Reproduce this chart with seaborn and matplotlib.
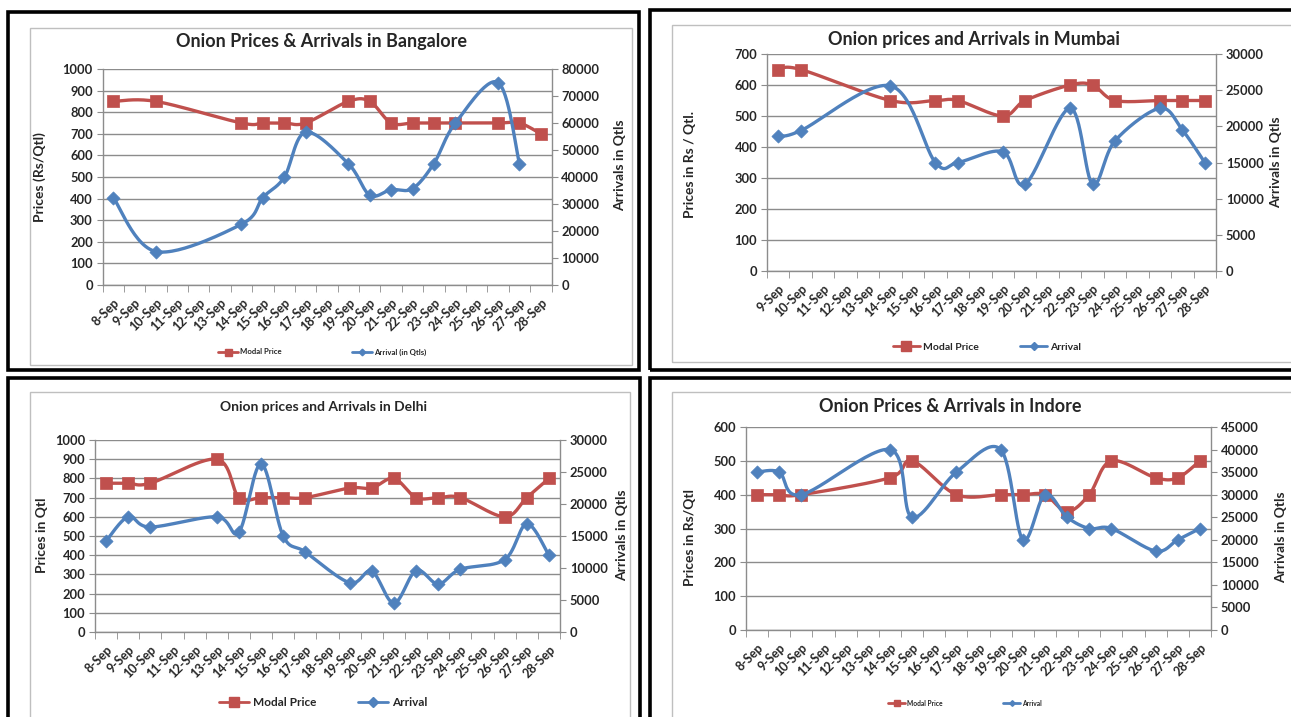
import numpy as np
import matplotlib
matplotlib.use("Agg")
import matplotlib.pyplot as plt
import seaborn as sns
from matplotlib.lines import Line2D
from matplotlib.patches import Rectangle
from matplotlib.ticker import MultipleLocator, FixedLocator

nan = np.nan

# ---------------- data ----------------
dates_8 = ['8-Sep', '9-Sep', '10-Sep', '11-Sep', '12-Sep', '13-Sep', '14-Sep', '15-Sep',
           '16-Sep', '17-Sep', '18-Sep', '19-Sep', '20-Sep', '21-Sep', '22-Sep', '23-Sep',
           '24-Sep', '25-Sep', '26-Sep', '27-Sep', '28-Sep']
dates_9 = ['9-Sep', '10-Sep', '11-Sep', '12-Sep', '13-Sep', '14-Sep', '15-Sep',
           '16-Sep', '17-Sep', '18-Sep', '19-Sep', '20-Sep', '21-Sep', '22-Sep', '23-Sep',
           '24-Sep', '25-Sep', '26-Sep', '27-Sep', '28-Sep']

blr_price = [850, nan, 850, nan, nan, nan, 750, 750, 750, 750, nan, 850, 850, 750, 750, 750, 750, nan, 750, 750, 700]
blr_arrival = [32400, nan, 12400, nan, nan, nan, 22500, 32400, 39900, 56600, nan, 44900, 33300, 35300, 35700, 45000, 59900, nan, 75000, 45000, nan]

mum_price = [650, 650, nan, nan, nan, 550, nan, 550, 550, nan, 500, 550, nan, 600, 600, 550, nan, 550, 550, 550]
mum_arrival = [18700, 19400, nan, nan, nan, 25600, nan, 15000, 15000, nan, 16500, 12000, nan, 22500, 12000, 18000, nan, 22500, 19500, 15000]

del_price = [775, 775, 775, nan, nan, 900, 700, 700, 700, 700, nan, 750, 750, 800, 700, 700, 700, nan, 600, 700, 800]
del_arrival = [14200, 18000, 16400, nan, nan, 18000, 15600, 26300, 15000, 12500, nan, 7700, 9500, 4500, 9600, 7500, 9800, nan, 11300, 16900, 12000]

ind_price = [400, 400, 400, nan, nan, nan, 450, 500, nan, 400, nan, 400, 400, 400, 350, 400, 500, nan, 450, 450, 500]
ind_arrival = [35000, 35000, 30000, nan, nan, nan, 40000, 25000, nan, 35000, nan, 40000, 20000, 30000, 25000, 22500, 22500, nan, 17500, 20000, 22500]

# ---------------- style ----------------
W, H = 1291, 717
sns.set_style("white")
plt.rcParams['font.family'] = ['Lato', 'DejaVu Sans']
RED = '#C0504D'
BLUE = '#4F81BD'
GRID = '#8C8C8C'
AXC = '#8C8C8C'

fig = plt.figure(figsize=(W / 100, H / 100), dpi=100)


def fx(x):
    return x / W


def fy(y):
    return 1 - y / H


def smooth(xs, ys, wpx, hpx, xlim, ylim):
    px = (xs - xlim[0]) / (xlim[1] - xlim[0]) * wpx
    py = (ys - ylim[0]) / (ylim[1] - ylim[0]) * hpx
    P = np.column_stack([px, py])
    n = len(P)
    out = [P[0]]
    t = np.linspace(0, 1, 30)[1:, None]
    for i in range(n - 1):
        p0 = P[i - 1] if i > 0 else P[i]
        p1, p2 = P[i], P[i + 1]
        p3 = P[i + 2] if i + 2 < n else P[i + 1]
        c1 = p1 + (p2 - p0) / 6
        c2 = p2 - (p3 - p1) / 6
        seg = (1 - t) ** 3 * p1 + 3 * (1 - t) ** 2 * t * c1 + 3 * (1 - t) * t ** 2 * c2 + t ** 3 * p2
        out.extend(seg)
    out = np.array(out)
    x = out[:, 0] / wpx * (xlim[1] - xlim[0]) + xlim[0]
    y = out[:, 1] / hpx * (ylim[1] - ylim[0]) + ylim[0]
    return x, y


def panel(box, inner, axbox, cats, price, arrival, lmax, lstep, rmax, rstep,
          title, tpos, tsize, ylab, ylpos, yrpos, legend_labels, legpos, legsize, legspace):
    bx0, by0, bx1, by1 = box
    fig.patches.append(Rectangle((fx(bx0), fy(by1)), fx(bx1 - bx0), (by1 - by0) / H,
                                 transform=fig.transFigure, fill=False, ec='black', lw=2.6, zorder=0))
    ix0, iy0, ix1, iy1 = inner
    fig.patches.append(Rectangle((fx(ix0), fy(iy1)), fx(ix1 - ix0), (iy1 - iy0) / H,
                                 transform=fig.transFigure, fill=False, ec='#BFBFBF', lw=1.0, zorder=0))

    x0, y0, x1, y1 = axbox
    ax = fig.add_axes([fx(x0), fy(y1), fx(x1 - x0), (y1 - y0) / H])
    ax.patch.set_alpha(0)
    n = len(cats)
    idx = np.arange(n)
    xlim = (-0.5, n - 0.5)
    ax.set_xlim(*xlim)
    ax.set_ylim(0, lmax)
    ax.yaxis.set_major_locator(MultipleLocator(lstep))
    ax.grid(axis='y', color=GRID, lw=1.0)
    ax.set_axisbelow(True)
    ax.set_xticks(idx)
    ax.set_xticklabels(cats, rotation=45, ha='right', rotation_mode='anchor',
                       fontsize=9, fontweight='bold')
    ax.xaxis.set_minor_locator(FixedLocator(np.arange(n + 1) - 0.5))
    ax.tick_params(axis='x', which='major', length=0, pad=8)
    ax.tick_params(axis='x', which='minor', length=5, color=AXC, direction='out', bottom=True)
    ax.tick_params(axis='y', length=4, color=AXC, direction='out', left=True,
                   labelsize=9.3, pad=3)
    for lbl in ax.get_yticklabels():
        lbl.set_fontweight('bold')
    for s in ['top', 'right']:
        ax.spines[s].set_visible(False)
    for s in ['left', 'bottom']:
        ax.spines[s].set_color(AXC)
        ax.spines[s].set_linewidth(1.0)

    wpx, hpx = x1 - x0, y1 - y0
    pr = np.array(price, dtype=float)
    m = ~np.isnan(pr)
    sx, sy = smooth(idx[m].astype(float), pr[m], wpx, hpx, xlim, (0, lmax))
    ax.plot(sx, sy, color=RED, lw=2.4, zorder=3, solid_capstyle='round')
    sns.scatterplot(x=idx[m], y=pr[m], ax=ax, marker='s', s=85, color=RED,
                    edgecolor=RED, linewidth=0.5, zorder=4)

    ax2 = ax.twinx()
    ax2.set_xlim(*xlim)
    ax2.set_ylim(0, rmax)
    ax2.yaxis.set_major_locator(MultipleLocator(rstep))
    ax2.tick_params(axis='y', length=4, color=AXC, direction='out', right=True,
                    labelsize=9.3, pad=3)
    for lbl in ax2.get_yticklabels():
        lbl.set_fontweight('bold')
    for s in ['top', 'left', 'bottom']:
        ax2.spines[s].set_visible(False)
    ax2.spines['right'].set_color(AXC)
    ax2.spines['right'].set_linewidth(1.0)
    ax2.grid(False)

    ar = np.array(arrival, dtype=float)
    m2 = ~np.isnan(ar)
    sx, sy = smooth(idx[m2].astype(float), ar[m2], wpx, hpx, xlim, (0, rmax))
    ax2.plot(sx, sy, color=BLUE, lw=2.4, zorder=3, solid_capstyle='round')
    sns.scatterplot(x=idx[m2], y=ar[m2], ax=ax2, marker='D', s=45, color=BLUE,
                    edgecolor=BLUE, linewidth=0.5, zorder=4)

    fig.text(fx(tpos[0]), fy(tpos[1]), title, ha='center', va='center',
             fontsize=tsize, fontweight='bold')
    fig.text(fx(ylpos[0]), fy(ylpos[1]), ylab[0], ha='center', va='center',
             rotation=90, fontsize=10, fontweight='bold')
    fig.text(fx(yrpos[0]), fy(yrpos[1]), ylab[1], ha='center', va='center',
             rotation=90, fontsize=10, fontweight='bold')

    handles = [Line2D([], [], color=RED, lw=2, marker='s', markersize=legsize * 0.9),
               Line2D([], [], color=BLUE, lw=2, marker='D', markersize=legsize * 0.6)]
    fig.legend(handles, legend_labels, loc='center', bbox_to_anchor=(fx(legpos[0]), fy(legpos[1])),
               ncol=2, frameon=False, prop={'size': legsize, 'weight': 'bold'},
               handlelength=2.6, handletextpad=0.3, columnspacing=legspace, borderaxespad=0)


# Bangalore
panel(box=(8, 12, 639, 370), inner=(30, 28, 632, 365), axbox=(102.5, 69, 551.5, 285),
      cats=dates_8, price=blr_price, arrival=blr_arrival, lmax=1000, lstep=100, rmax=80000, rstep=10000,
      title='Onion Prices & Arrivals in Bangalore', tpos=(322, 42), tsize=13,
      ylab=('Prices (Rs/Qtl)', 'Arrivals in Qtls'), ylpos=(40, 177), yrpos=(620, 165),
      legend_labels=['Modal Price', 'Arrival (in Qtls)'], legpos=(322, 352), legsize=5.6, legspace=9)

# Mumbai
panel(box=(650, 10, 1300, 370), inner=(672, 25, 1300, 362), axbox=(767, 54, 1216, 271),
      cats=dates_9, price=mum_price, arrival=mum_arrival, lmax=700, lstep=100, rmax=30000, rstep=5000,
      title='Onion prices and Arrivals in Mumbai', tpos=(974, 40), tsize=13,
      ylab=('Prices in Rs / Qtl.', 'Arrivals in Qtls'), ylpos=(690, 165), yrpos=(1276, 162),
      legend_labels=['Modal Price', 'Arrival'], legpos=(987, 347), legsize=7.5, legspace=4)

# Delhi
panel(box=(8, 378, 640, 730), inner=(30, 392, 630, 730), axbox=(95, 440, 560, 632),
      cats=dates_8, price=del_price, arrival=del_arrival, lmax=1000, lstep=100, rmax=30000, rstep=5000,
      title='Onion prices and Arrivals in Delhi', tpos=(323, 407), tsize=10,
      ylab=('Prices in Qtl', 'Arrivals in Qtls'), ylpos=(42, 535), yrpos=(622, 535),
      legend_labels=['Modal Price', 'Arrival'], legpos=(323, 703), legsize=8.5, legspace=3.5)

# Indore
panel(box=(650, 378, 1300, 730), inner=(672, 392, 1300, 730), axbox=(746, 427, 1211, 630),
      cats=dates_8, price=ind_price, arrival=ind_arrival, lmax=600, lstep=100, rmax=45000, rstep=5000,
      title='Onion Prices & Arrivals in Indore', tpos=(950, 407), tsize=13,
      ylab=('Prices in Rs/Qtl', 'Arrivals in Qtls'), ylpos=(690, 537), yrpos=(1281, 537),
      legend_labels=['Modal Price', 'Arrival'], legpos=(965, 703), legsize=4.8, legspace=9)

fig.savefig('out.png', dpi=100)
